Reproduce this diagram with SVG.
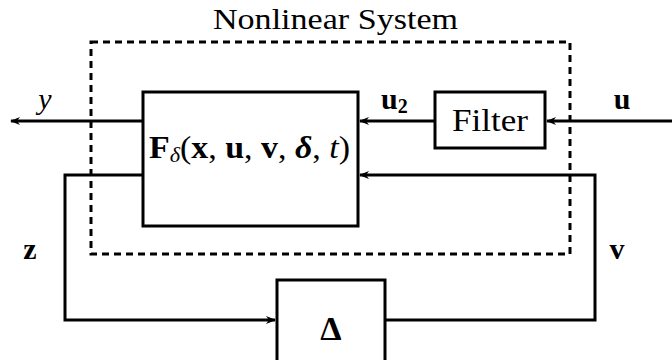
<svg xmlns="http://www.w3.org/2000/svg" width="672" height="360" viewBox="0 0 672 360">
<style>
.box{fill:#fff;stroke:#000;stroke-width:3}
.ln{fill:none;stroke:#000;stroke-width:3}
.dash{fill:none;stroke:#000;stroke-width:3;stroke-dasharray:7 5}
text{font-family:"Liberation Serif","DejaVu Serif",serif;fill:#000}
.b{font-weight:bold}
.i{font-style:italic}
</style>
<defs>
<marker id="ah" markerUnits="userSpaceOnUse" markerWidth="12" markerHeight="10" refX="9" refY="5" orient="auto">
<path d="M0,1 L10,5 L0,9 L3,5 Z" fill="#000"/>
</marker>
</defs>
<g id="system">
<rect class="dash" x="91" y="42" width="479" height="212"/>
<text x="213" y="29" font-size="30" textLength="245" lengthAdjust="spacingAndGlyphs">Nonlinear System</text>
</g>
<g id="connectors">
<line class="ln" x1="143" y1="121" x2="11" y2="121" marker-end="url(#ah)"/>
<line class="ln" x1="435" y1="121" x2="360" y2="121" marker-end="url(#ah)"/>
<line class="ln" x1="672" y1="121" x2="547" y2="121" marker-end="url(#ah)"/>
<polyline class="ln" points="385,320 595,320 595,175 360,175" marker-end="url(#ah)"/>
<polyline class="ln" points="143,175 65,175 65,320 275,320" marker-end="url(#ah)"/>
<text class="i" x="45" y="109" font-size="30" text-anchor="middle">y</text>
<text class="b" x="381" y="109" font-size="30">u<tspan font-size="20" dy="4">2</tspan></text>
<text class="b" x="622" y="109" font-size="30" text-anchor="middle">u</text>
<text class="b" x="30" y="259" font-size="30" text-anchor="middle">z</text>
<text class="b" x="617" y="259" font-size="30" text-anchor="middle">v</text>
</g>
<g id="F">
<rect class="box" x="143" y="92" width="215" height="134"/>
<text x="149" y="158" font-size="32" textLength="201" lengthAdjust="spacingAndGlyphs"><tspan class="b">F</tspan><tspan class="i" font-size="21" dy="4">δ</tspan><tspan dy="-4">(</tspan><tspan class="b">x</tspan>, <tspan class="b">u</tspan>, <tspan class="b">v</tspan>, <tspan class="b i">δ</tspan>, <tspan class="i">t</tspan>)</text>
</g>
<g id="filter">
<rect class="box" x="435" y="92" width="110" height="56"/>
<text x="452" y="131" font-size="31" textLength="76" lengthAdjust="spacingAndGlyphs">Filter</text>
</g>
<g id="delta">
<rect class="box" x="277" y="280" width="108" height="90"/>
<text class="b" x="331" y="340" font-size="34" text-anchor="middle">Δ</text>
</g>
</svg>
